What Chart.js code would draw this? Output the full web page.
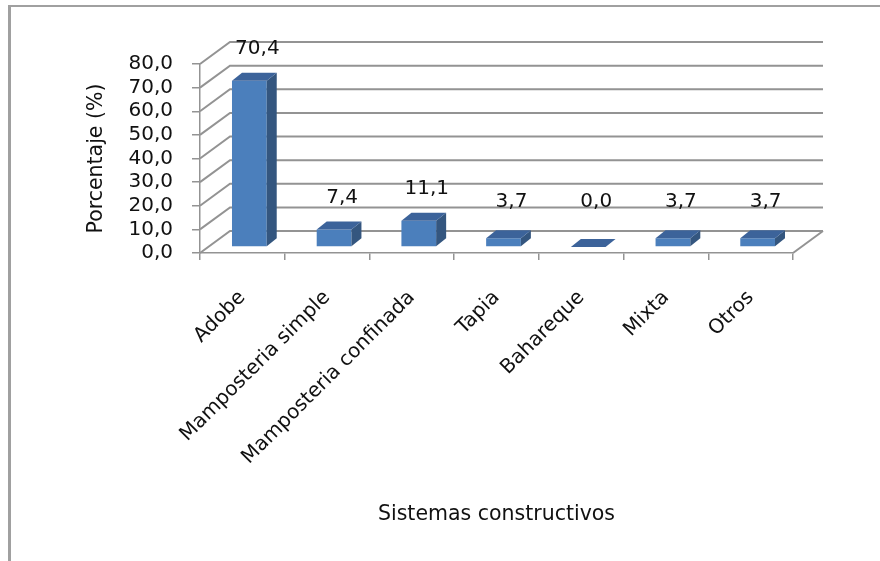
<!DOCTYPE html>
<html>
<head>
<meta charset="utf-8">
<script src="https://cdn.jsdelivr.net/npm/chart.js@4.4.0/dist/chart.umd.min.js"></script>
<style>
  html, body { margin: 0; padding: 0; background: #fff; }
</style>
</head>
<body>
<canvas id="chart-bars" width="880" height="561"></canvas>
<script>
var categories = ['Adobe', 'Mamposteria simple', 'Mamposteria confinada', 'Tapia', 'Bahareque', 'Mixta', 'Otros']
var porcentajes = [70.4, 7.4, 11.1, 3.7, 0.0, 3.7, 3.7]
var yTicks = [0, 10, 20, 30, 40, 50, 60, 70, 80]

// 3d look: back wall offset and bar depth
var WALL_DX = 30, WALL_DY = -22
var BAR_DX = 7, BAR_DY = -6
var SIDE_DX = 10, SIDE_DY = -8

var LINE_COLOR = '#939393'

function fmt(v) {
  return v.toFixed(1).replace('.', ',')
}

var wall3d = {
  id: 'wall3d',
  beforeDraw: function (chart) {
    var c = chart.ctx
    c.save()
    c.fillStyle = '#fff'
    c.fillRect(0, 0, chart.width, chart.height)
    // outer frame (only top and left edges visible)
    c.strokeStyle = '#a0a0a0'
    c.lineWidth = 2
    c.beginPath()
    c.moveTo(9, 6)
    c.lineTo(chart.width, 6)
    c.stroke()
    c.lineWidth = 3
    c.beginPath()
    c.moveTo(9.5, 5)
    c.lineTo(9.5, chart.height)
    c.stroke()
    c.restore()
  },
  beforeDatasetsDraw: function (chart) {
    var c = chart.ctx
    var xs = chart.scales.x, ys = chart.scales.y
    c.save()
    c.strokeStyle = LINE_COLOR
    c.lineWidth = 2
    yTicks.forEach(function (v) {
      var y = ys.getPixelForValue(v)
      c.beginPath()
      c.moveTo(xs.left, y)
      c.lineTo(xs.left + WALL_DX, y + WALL_DY)
      c.lineTo(xs.right + WALL_DX, y + WALL_DY)
      c.stroke()
    })
    var y0 = ys.getPixelForValue(0)
    c.beginPath()
    c.moveTo(xs.right, y0)
    c.lineTo(xs.right + WALL_DX, y0 + WALL_DY)
    c.stroke()
    c.restore()
  },
  beforeDatasetDraw: function (chart) {
    chart.ctx.save()
    chart.ctx.translate(BAR_DX, BAR_DY)
  },
  afterDatasetDraw: function (chart, args) {
    var c = chart.ctx
    args.meta.data.forEach(function (bar) {
      var p = bar.getProps(['x', 'y', 'base', 'width'], true)
      var l = p.x - p.width / 2, r = p.x + p.width / 2
      // side face
      c.fillStyle = '#34567f'
      c.beginPath()
      c.moveTo(r, p.y)
      c.lineTo(r + SIDE_DX, p.y + SIDE_DY)
      c.lineTo(r + SIDE_DX, p.base + SIDE_DY)
      c.lineTo(r, p.base)
      c.closePath()
      c.fill()
      // top face
      c.fillStyle = '#3c639a'
      c.beginPath()
      c.moveTo(l, p.y)
      c.lineTo(l + SIDE_DX, p.y + SIDE_DY)
      c.lineTo(r + SIDE_DX, p.y + SIDE_DY)
      c.lineTo(r, p.y)
      c.closePath()
      c.fill()
    })
    c.restore()
  },
  afterDatasetsDraw: function (chart) {
    var c = chart.ctx
    var ys = chart.scales.y
    var meta = chart.getDatasetMeta(0)
    c.save()
    c.fillStyle = '#111'
    c.font = '20px "DejaVu Sans"'
    c.textAlign = 'center'
    c.textBaseline = 'middle'
    meta.data.forEach(function (bar, i) {
      var v = porcentajes[i]
      var y = ys.getPixelForValue(Math.max(v, 5.5)) - 38
      c.fillText(fmt(v), bar.x + 15, y)
    })
    c.restore()
  }
}

var ctx = document.getElementById('chart-bars').getContext('2d')

var ChartSistemas = new Chart(ctx, {
  type: 'bar',
  data: {
    labels: categories,
    datasets: [
      {
        label: 'Porcentaje',
        data: porcentajes,
        backgroundColor: '#4b7fbc',
        borderWidth: 0,
        categoryPercentage: 1,
        barPercentage: 0.41,
        clip: false,
      },
    ],
  },
  options: {
    responsive: false,
    animation: false,
    layout: {
      padding: { left: 84, right: 87, top: 64, bottom: 34 },
    },
    plugins: {
      legend: { display: false },
      tooltip: { enabled: false },
    },
    scales: {
      x: {
        grid: {
          display: true,
          drawOnChartArea: false,
          drawTicks: true,
          tickLength: 7,
          offset: true,
          color: LINE_COLOR,
          lineWidth: 1.5,
        },
        border: { display: true, color: LINE_COLOR, width: 1.5 },
        ticks: {
          autoSkip: false,
          minRotation: 45,
          maxRotation: 45,
          padding: 26,
          color: '#111',
          font: { family: 'DejaVu Sans', size: 20 },
        },
        title: {
          display: true,
          text: 'Sistemas constructivos',
          padding: 0,
          color: '#111',
          font: { family: 'DejaVu Sans', size: 20.5 },
        },
        afterFit: function (scale) {
          scale.height = 274
        },
      },
      y: {
        min: 0,
        max: 80,
        grid: {
          display: true,
          drawOnChartArea: false,
          drawTicks: true,
          tickLength: 8,
          color: LINE_COLOR,
          lineWidth: 1.5,
        },
        border: { display: true, color: LINE_COLOR, width: 1.5 },
        ticks: {
          autoSkip: false,
          stepSize: 10,
          padding: 19,
          color: '#111',
          font: { family: 'DejaVu Sans', size: 20 },
          callback: function (value) {
            return fmt(value)
          },
        },
        title: {
          display: true,
          text: 'Porcentaje (%)',
          padding: 0,
          color: '#111',
          font: { family: 'DejaVu Sans', size: 20.5 },
        },
        afterFit: function (scale) {
          scale.width = 116
        },
      },
    },
  },
  plugins: [wall3d],
})
</script>
</body>
</html>
